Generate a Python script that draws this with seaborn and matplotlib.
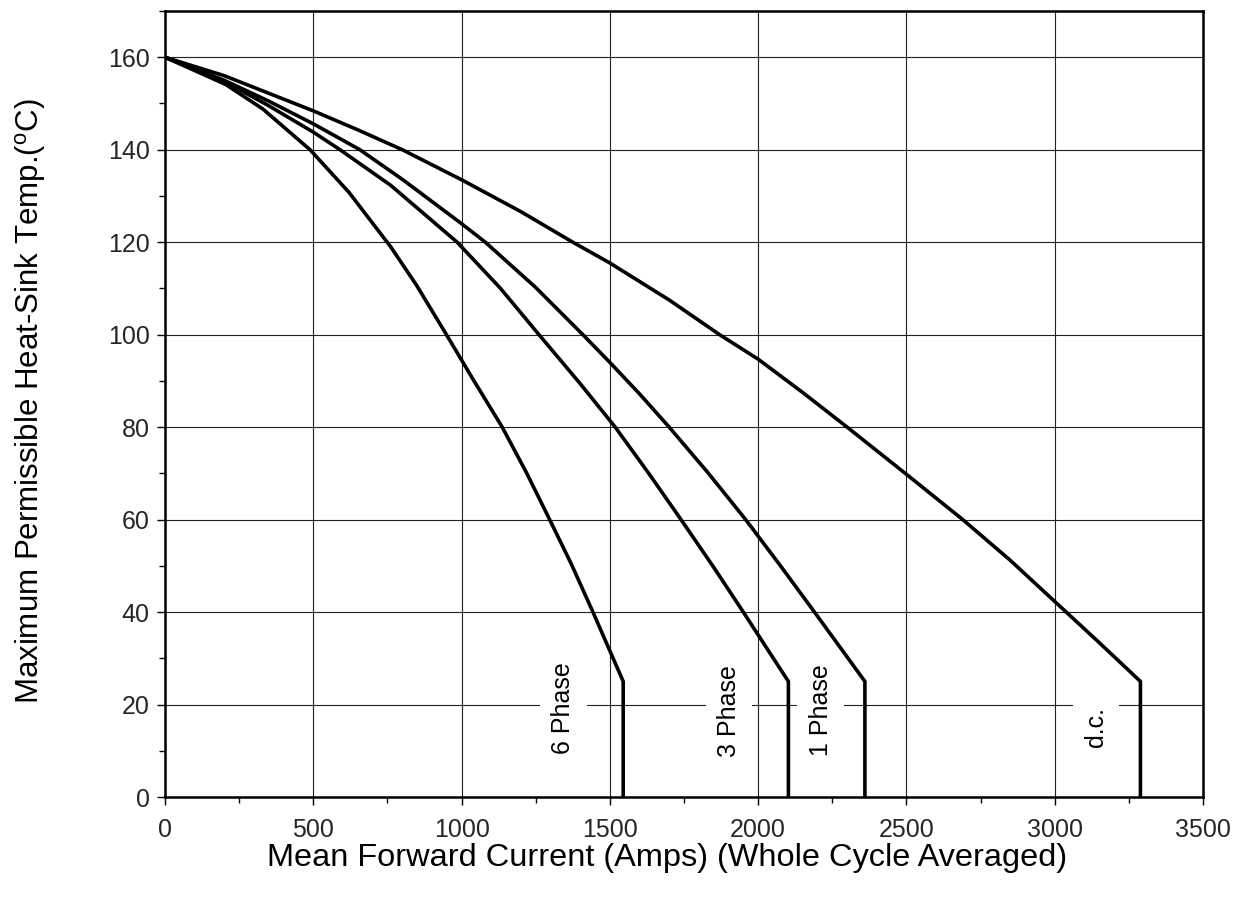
import matplotlib
matplotlib.use("Agg")
import matplotlib.pyplot as plt
from matplotlib.ticker import MultipleLocator
import seaborn as sns
import pandas as pd

# ---- data ----
dc_x = [0, 200, 500, 650, 800, 1000, 1200, 1375, 1500, 1700, 1870, 2000, 2150, 2300, 2500, 2690, 2850, 3000, 3150, 3289, 3289]
dc_y = [160, 156, 148.4, 144.3, 140, 133.5, 126.6, 120, 115.5, 107.5, 100, 94.7, 87.5, 80, 69.8, 60, 51.2, 42.3, 33.4, 25, 0]

p1_x = [0, 200, 350, 500, 657, 800, 1000, 1080, 1250, 1409, 1500, 1600, 1700, 1830, 1958, 2080, 2190, 2360, 2360]
p1_y = [160, 155, 150.5, 145.6, 140, 133.6, 124, 120, 110.2, 100, 94, 87.2, 80, 70.2, 60, 49.6, 40, 25, 0]

p3_x = [0, 200, 350, 500, 590, 761, 985, 1130, 1261, 1400, 1518, 1630, 1740, 1850, 1950, 2102, 2102]
p3_y = [160, 154.8, 149.5, 143.8, 140, 132.3, 120, 110.1, 100, 89.4, 80, 70.1, 60, 49.7, 40, 25, 0]

p6_x = [0, 205, 330, 489, 620, 761, 848, 949, 1040, 1137, 1220, 1297, 1370, 1443, 1545, 1545]
p6_y = [160, 154.1, 148.8, 140, 130.8, 119, 110.7, 100, 90.2, 80, 70, 60, 50.4, 40, 25, 0]

series_names = ["d.c.", "1 Phase", "3 Phase", "6 Phase"]
label_x = [3140, 2211, 1902, 1343]
label_y = [15.1, 18.8, 18.6, 19.2]

x_ticks = [0, 500, 1000, 1500, 2000, 2500, 3000, 3500]
y_ticks = [0, 20, 40, 60, 80, 100, 120, 140, 160]

xlabel = "Mean Forward Current (Amps) (Whole Cycle Averaged)"
ylabel = r"Maximum Permissible Heat-Sink Temp.($^{\rm o}$C)"

# ---- build table ----
frames = []
for name, xs, ys in zip(series_names, [dc_x, p1_x, p3_x, p6_x], [dc_y, p1_y, p3_y, p6_y]):
    frames.append(pd.DataFrame({"I": xs, "T": ys, "series": name}))
df = pd.concat(frames, ignore_index=True)

sns.set_theme(style="white")
plt.rcParams["font.family"] = ["Liberation Sans", "DejaVu Sans"]
plt.rcParams["mathtext.fontset"] = "custom"
plt.rcParams["mathtext.rm"] = "Liberation Sans"

fig = plt.figure(figsize=(12.5, 9.01), dpi=100)
ax = fig.add_axes([0.132, 0.1154, 0.8304, 0.8724])

ax.grid(True, which="major", color="#222222", linewidth=0.8, zorder=0)
ax.set_axisbelow(True)

sns.lineplot(data=df, x="I", y="T", units="series", estimator=None, sort=False,
             color="black", linewidth=2.6, ax=ax, legend=False, zorder=3)
for ln in ax.lines:
    ln.set_solid_joinstyle("round")

for name, lx, ly in zip(series_names, label_x, label_y):
    ax.text(lx, ly, name, rotation=90, ha="center", va="center", fontsize=18,
            color="black", zorder=2,
            bbox=dict(boxstyle="square,pad=0.45", facecolor="white", edgecolor="none"))

ax.set_xlim(0, 3500)
ax.set_ylim(0, 170)
ax.set_xticks(x_ticks)
ax.set_yticks(y_ticks)
ax.xaxis.set_minor_locator(MultipleLocator(250))
ax.yaxis.set_minor_locator(MultipleLocator(10))
ax.tick_params(which="major", direction="out", length=6, width=1, color="black",
               labelsize=18, bottom=True, left=True)
ax.tick_params(which="minor", direction="out", length=4, width=1, color="black",
               bottom=True, left=True)
ax.tick_params(axis="x", which="major", pad=9)
ax.tick_params(axis="y", which="major", pad=5)

for s in ax.spines.values():
    s.set_color("black")
    s.set_linewidth(1.8)

ax.set_xlabel(xlabel, fontsize=23.4, color="black")
ax.xaxis.set_label_coords(0.4836, -0.059)
ax.set_ylabel(ylabel, fontsize=22.5, color="black")
ax.yaxis.set_label_coords(-0.113, 0.504)

fig.savefig("out.png", dpi=100, facecolor="white")
